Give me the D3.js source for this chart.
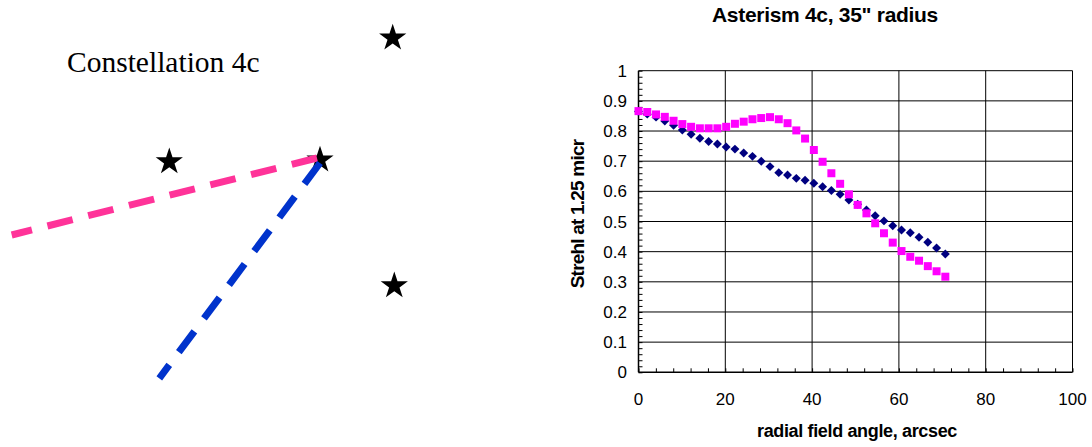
<!DOCTYPE html>
<html>
<head>
<meta charset="utf-8">
<script src="https://cdn.jsdelivr.net/npm/d3@7"></script>
<style>
html,body{margin:0;padding:0;background:#fff;}
svg{display:block;}
</style>
</head>
<body>
<svg id="chart" width="1092" height="447"></svg>
<script>
// ---- data ----
const fieldAngle = [0, 2.02, 4.04, 6.06, 8.08, 10.1, 12.12, 14.14, 16.16, 18.18, 20.2, 22.22, 24.24, 26.26, 28.28, 30.3, 32.32, 34.34, 36.36, 38.38, 40.4, 42.42, 44.44, 46.46, 48.48, 50.5, 52.52, 54.54, 56.56, 58.58, 60.6, 62.62, 64.64, 66.66, 68.68, 70.7];
const strehlNavy = [0.865, 0.856, 0.846, 0.833, 0.819, 0.803, 0.789, 0.776, 0.765, 0.757, 0.747, 0.740, 0.727, 0.716, 0.700, 0.682, 0.662, 0.654, 0.643, 0.637, 0.627, 0.615, 0.603, 0.590, 0.571, 0.557, 0.538, 0.519, 0.502, 0.486, 0.472, 0.463, 0.448, 0.431, 0.412, 0.392];
const strehlMagenta = [0.866, 0.863, 0.855, 0.847, 0.834, 0.823, 0.814, 0.809, 0.809, 0.809, 0.814, 0.824, 0.831, 0.839, 0.843, 0.846, 0.839, 0.826, 0.802, 0.775, 0.737, 0.698, 0.660, 0.625, 0.590, 0.555, 0.527, 0.494, 0.461, 0.430, 0.402, 0.383, 0.370, 0.352, 0.335, 0.317];
const xTicks = [0, 20, 40, 60, 80, 100];
const yTicks = [0, 0.1, 0.2, 0.3, 0.4, 0.5, 0.6, 0.7, 0.8, 0.9, 1];
const chartTitle = "Asterism 4c, 35\" radius";
const xTitle = "radial field angle, arcsec";
const yTitle = "Strehl at 1.25 micr";

// constellation diagram
const diagramTitle = "Constellation 4c";
const starsX = [392.7, 169.3, 320, 394.3];
const starsY = [38, 161.7, 160, 285.7];
const pinkLine = [[317, 158], [11.7, 235]];
const blueLine = [[320, 163], [159.3, 378.3]];

// ---- drawing ----
const svg = d3.select("#chart");

// Left diagram
const dg = svg.append("g");
dg.append("text").attr("x", 67).attr("y", 72)
  .attr("font-family", "'Liberation Serif', 'Times New Roman', serif")
  .attr("font-size", 29.5).attr("fill", "#000").text(diagramTitle);

const star = d3.symbol().type(d3.symbolStar).size(230);
dg.selectAll("path.star").data(starsX.map((x, i) => [x, starsY[i]])).join("path")
  .attr("class", "star")
  .attr("transform", d => `translate(${d[0]},${d[1]})`)
  .attr("d", star).attr("fill", "#000");

const lineGen = d3.line();
dg.append("path").attr("d", lineGen(pinkLine)).attr("stroke", "#FF3399")
  .attr("stroke-width", 7).attr("stroke-dasharray", "26,16").attr("fill", "none");
dg.append("path").attr("d", lineGen(blueLine)).attr("stroke", "#0033CC")
  .attr("stroke-width", 7).attr("stroke-dasharray", "26,16").attr("fill", "none");

// Right chart
const x = d3.scaleLinear().domain([0, 100]).range([638.5, 1072.5]);
const y = d3.scaleLinear().domain([0, 1]).range([372.3, 70.7]);
const font = "'Liberation Sans', Arial, sans-serif";

const g = svg.append("g");
// horizontal gridlines
g.selectAll("line.hg").data(yTicks.filter(d => d > 0)).join("line")
  .attr("x1", x(0)).attr("x2", x(100)).attr("y1", d => y(d)).attr("y2", d => y(d))
  .attr("stroke", "#000").attr("stroke-width", 1);
// vertical gridlines
g.selectAll("line.vg").data(xTicks.filter(d => d > 0)).join("line")
  .attr("y1", y(0)).attr("y2", y(1)).attr("x1", d => x(d)).attr("x2", d => x(d))
  .attr("stroke", "#000").attr("stroke-width", 1);

// axes with inside minor ticks
const yAxis = d3.axisRight(y).tickValues(d3.range(0, 1.001, 0.02)).tickSize(4).tickFormat("");
const ya = g.append("g").attr("transform", `translate(${x(0)},0)`).call(yAxis);
ya.select(".domain").remove();
ya.selectAll("line").attr("stroke", "#000");
g.append("line").attr("x1", x(0)).attr("x2", x(0)).attr("y1", y(0)).attr("y2", y(1))
  .attr("stroke", "#000").attr("stroke-width", 1.5);

const xAxis = d3.axisTop(x).tickValues(d3.range(0, 100.1, 4)).tickSize(4).tickFormat("");
const xa = g.append("g").attr("transform", `translate(0,${y(0)})`).call(xAxis);
xa.select(".domain").remove();
xa.selectAll("line").attr("stroke", "#000");
g.append("line").attr("x1", x(0)).attr("x2", x(100)).attr("y1", y(0)).attr("y2", y(0))
  .attr("stroke", "#000").attr("stroke-width", 1.5);

// tick labels
g.selectAll("text.yl").data(yTicks).join("text")
  .attr("x", 627).attr("y", d => y(d)).attr("dy", "0.36em")
  .attr("text-anchor", "end").attr("font-family", font).attr("font-size", 17)
  .text(d => d3.format("~g")(d));
g.selectAll("text.xl").data(xTicks).join("text")
  .attr("x", d => x(d)).attr("y", 405)
  .attr("text-anchor", "middle").attr("font-family", font).attr("font-size", 17)
  .text(d => d);

// titles
g.append("text").attr("x", 825).attr("y", 22).attr("text-anchor", "middle")
  .attr("font-family", font).attr("font-weight", "bold").attr("font-size", 21)
  .attr("letter-spacing", -0.3).text(chartTitle);
g.append("text").attr("x", 857).attr("y", 437).attr("text-anchor", "middle")
  .attr("font-family", font).attr("font-weight", "bold").attr("font-size", 18)
  .attr("letter-spacing", -0.35).text(xTitle);
g.append("text").attr("transform", `translate(584,214) rotate(-90)`)
  .attr("text-anchor", "middle")
  .attr("font-family", font).attr("font-weight", "bold").attr("font-size", 19)
  .attr("letter-spacing", -0.8).text(yTitle);

// series
const diamond = d3.symbol().type(d3.symbolSquare).size(40);
g.selectAll("path.nv").data(fieldAngle.map((a, i) => [a, strehlNavy[i]])).join("path")
  .attr("transform", d => `translate(${x(d[0])},${y(d[1])}) rotate(45)`)
  .attr("d", diamond).attr("fill", "#000080");
const square = d3.symbol().type(d3.symbolSquare).size(64);
g.selectAll("path.mg").data(fieldAngle.map((a, i) => [a, strehlMagenta[i]])).join("path")
  .attr("transform", d => `translate(${x(d[0])},${y(d[1])})`)
  .attr("d", square).attr("fill", "#FF00FF");
</script>
</body>
</html>
